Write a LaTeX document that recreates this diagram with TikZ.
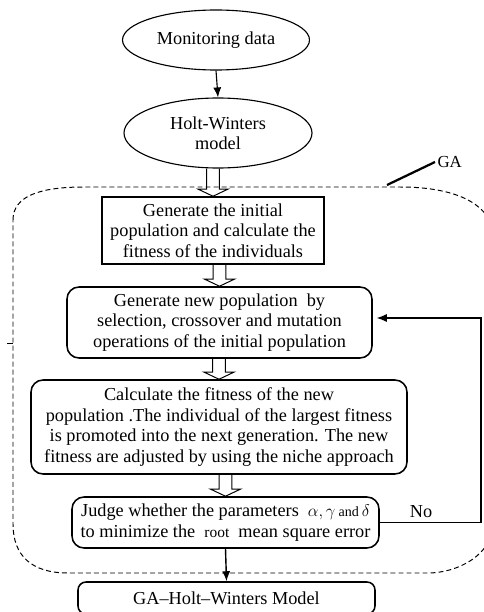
\documentclass[tikz,border=0pt]{standalone}
\usepackage{fontspec}
\setmainfont{Liberation Serif}
\usetikzlibrary{shapes.geometric,calc,arrows.meta}

\tikzset{
  oval/.style={draw, ellipse, line width=0.8pt, inner sep=0pt, align=center},
  stepbox/.style={draw, rectangle, line width=1.1pt, inner sep=0pt, align=center},
  roundbox/.style={stepbox, rounded corners=0.3cm},
  gaframe/.style={line width=0.7pt, dash pattern=on 3.5pt off 2.2pt},
}
% hollow arrow from the bottom of #1 to the top of #2
\newcommand{\hollowarrow}[2]{%
  \draw[line width=0.7pt] ($(#1.south -| #2.north)+(-0.16,0)$) -- ($(#2.north)+(-0.16,0.18)$)
    -- ($(#2.north)+(-0.38,0.18)$) -- (#2.north) -- ($(#2.north)+(0.38,0.18)$)
    -- ($(#2.north)+(0.16,0.18)$) -- ($(#1.south -| #2.north)+(0.16,0)$);}

\begin{document}
\begin{tikzpicture}[font=\fontsize{13}{14.5}\selectfont]
    \useasboundingbox (0,0) rectangle (12.1,-15.3);
    % GA region
    \draw[gaframe] (0.325,-5.5) .. controls (0.325,-4.9) and (1.0,-4.675) .. (2.1,-4.675) -- (10.0,-4.675)
      .. controls (11.4,-4.675) and (12.35,-5.1) .. (12.35,-6.0) -- (12.35,-13.0)
      .. controls (12.35,-13.9) and (11.4,-14.325) .. (10.7,-14.325) -- (1.7,-14.325)
      .. controls (0.8,-14.325) and (0.325,-13.9) .. (0.325,-13.1) -- cycle;
    \draw[line width=0.7pt] (0.175,-8.575) -- (0.325,-8.575);
    \draw[line width=1.6pt] (9.675,-4.625) -- (10.875,-4.05) node[right, inner sep=1pt, font=\fontsize{12}{14}\selectfont] (ga) {GA};
    % steps
    \node[oval, minimum width=4.675cm, minimum height=1.5cm] (mon) at (5.4,-1.0) {Monitoring data};
    \node[oval, minimum width=4.7cm, minimum height=1.75cm] (hw) at (5.45,-3.325) {Holt-Winters\\model};
    \node[stepbox, minimum width=5.55cm, minimum height=1.675cm] (init) at (5.325,-5.7625)
      {Generate the initial\\population and calculate the\\fitness of the individuals};
    \node[roundbox, minimum width=7.625cm, minimum height=1.775cm] (newpop) at (5.4875,-8.0625)
      {Generate new population \ by\\selection, crossover and mutation\\operations of the initial population};
    \node[roundbox, minimum width=9.4cm, minimum height=2.35cm] (fit) at (5.475,-10.675)
      {Calculate the fitness of the new\\population .The individual of the largest fitness\\is promoted into the next generation. The new\\fitness are adjusted by using the niche approach};
    \node[roundbox, minimum width=7.675cm, minimum height=1.275cm] (judge) at (5.6375,-13.0625)
      {Judge whether the parameters \ $\alpha,\gamma$\,{\fontsize{10}{12}\selectfont and}\,$\delta$\\to minimize the \ {\fontsize{11}{13}\selectfont root} \ mean square error};
    \node[roundbox, rounded corners=0.2cm, minimum width=7.425cm, minimum height=0.8cm] (gahw) at (5.6625,-14.95)
      {GA--Holt--Winters Model};
    % connectors
    \draw[line width=0.8pt, -{Latex[length=2.5mm,width=2mm]}] (mon.south) -- (hw.north);
    \hollowarrow{hw}{init}
    \hollowarrow{init}{newpop}
    \hollowarrow{newpop}{fit}
    \hollowarrow{fit}{judge}
    \draw[line width=1pt, -{Latex[length=2.5mm,width=2mm]}] (judge.south) -- (gahw.north);
    \coordinate (back) at (12.025,-7.95);
    \draw[line width=0.8pt, -{Latex[length=2.5mm,width=2mm]}, shorten >=0.1cm] (judge.east) -| (back) -- (back -| newpop.east);
    \node (no) at (10.525,-12.8) {No};
\end{tikzpicture}
\end{document}
